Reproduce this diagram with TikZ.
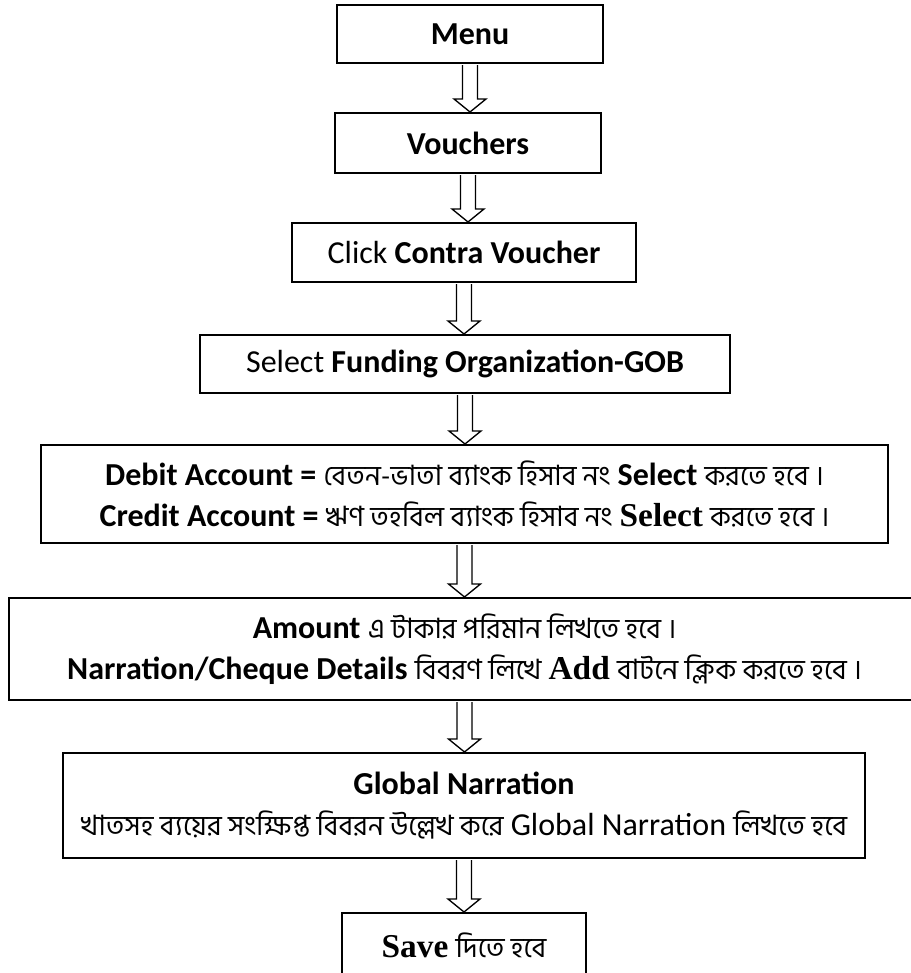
\documentclass[tikz,border=0pt]{standalone}
\usepackage{fontspec}
\setmainfont{Carlito}
\newfontfamily\banglafont[Script=Bengali]{Hind Siliguri}
\newfontfamily\timesfont{Liberation Serif}
\usetikzlibrary{calc}

\newcommand{\bn}[1]{{\banglafont\fontsize{21pt}{24pt}\selectfont #1}}
\newcommand{\tb}[1]{{\timesfont\bfseries\fontsize{25pt}{30pt}\selectfont #1}}

% hollow block arrow from the bottom of one box to the top of the next
\newcommand{\flowarrow}[2]{%
	\filldraw[fill=white,line width=1pt] let \p1=(#1.south), \p2=(#2.north) in
		(\x1-5.6pt,\y1-0.8pt) -- (\x1-5.6pt,\y2+9.75pt) -- (\x1-12pt,\y2+9.75pt) -- (\x1,\y2)
		-- (\x1+12pt,\y2+9.75pt) -- (\x1+5.6pt,\y2+9.75pt) -- (\x1+5.6pt,\y1-0.8pt);}

\begin{document}
\begin{tikzpicture}[x=0.75pt,y=-0.75pt,
		box/.style={draw,line width=1.5pt,inner sep=0pt,align=center,
			font=\fontsize{24pt}{31pt}\selectfont}]

		\useasboundingbox (0,0) rectangle (910,973);
		%\draw[step=50,gray,very thin] (0,0) grid (910,973);

		\node[box,minimum width=199.5pt,minimum height=43.5pt] (menu) at (470,34) {\textbf{Menu}};
		\node[box,minimum width=199.5pt,minimum height=45pt] (vouchers) at (468,143) {\textbf{Vouchers}};
		\node[box,minimum width=258pt,minimum height=44.25pt] (contra) at (464,252.5) {Click \textbf{Contra Voucher}};
		\node[box,minimum width=398pt,minimum height=43.5pt] (funding) at (465,364) {Select \textbf{Funding Organization-GOB}};
		\node[box,minimum width=635.25pt,minimum height=73.5pt] (account) at (464.5,494)
			{\textbf{Debit Account =} \bn{বেতন-ভাতা ব্যাংক হিসাব নং} \textbf{Select} \bn{করতে হবে ।}\\
			\textbf{Credit Account =} \bn{ঋণ তহবিল ব্যাংক হিসাব নং} \tb{Select} \bn{করতে হবে ।}};
		\node[box,minimum width=683.25pt,minimum height=76.5pt] (amount) at (464.5,649)
			{\textbf{Amount} \bn{এ টাকার পরিমান লিখতে হবে ।}\\
			\textbf{Narration/Cheque Details} \bn{বিবরণ লিখে} \tb{Add} \bn{বাটনে ক্লিক করতে হবে ।}};
		\node[box,minimum width=601.5pt,minimum height=78.75pt] (global) at (464,805.5)
			{\textbf{Global Narration}\\
			\bn{খাতসহ ব্যয়ের সংক্ষিপ্ত বিবরন উল্লেখ করে} Global Narration \bn{লিখতে হবে}};
		\node[box,minimum width=183pt,minimum height=48pt] (save) at (464,945) {\tb{Save} \bn{দিতে হবে}};

		\flowarrow{menu}{vouchers}
		\flowarrow{vouchers}{contra}
		\flowarrow{contra}{funding}
		\flowarrow{funding}{account}
		\flowarrow{account}{amount}
		\flowarrow{amount}{global}
		\flowarrow{global}{save}

\end{tikzpicture}
\end{document}
